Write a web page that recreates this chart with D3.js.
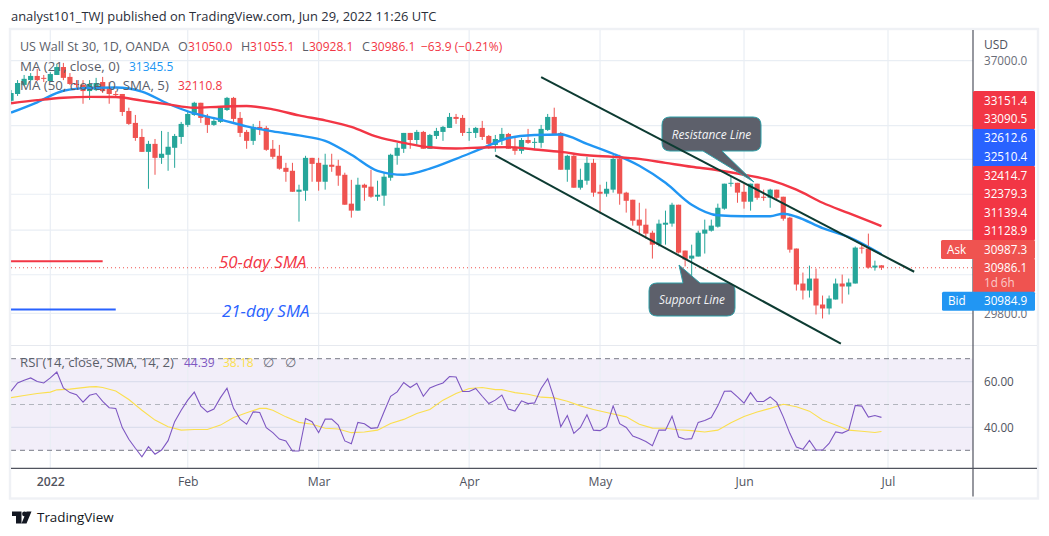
<!DOCTYPE html>
<html><head><meta charset="utf-8">
<script src="https://d3js.org/d3.v7.min.js"></script>
<style>html,body{margin:0;padding:0;background:#fff}svg{display:block}text{font-family:"Open Sans",sans-serif}</style>
</head><body><div id="c"></div>
<script>
// bar index 0 = 3 Jan 2022
const firstBar = -6;
const opens = [35750,35960,36240,36390,36520,36460,36360,36550,36800,36490,36270,36240,36050,36080,36330,36150,35960,35960,35440,35080,34660,34220,34455,34045,34135,34340,34660,35020,35320,35690,35290,35020,35110,35470,35840,35230,34810,34545,34960,34930,34310,34105,33755,33670,33070,33100,34045,33900,33355,33845,33815,33555,32735,32540,33270,33215,32930,32960,33470,34105,34310,34780,34570,34810,34310,34690,34810,34930,35260,35230,34780,34780,34930,34690,34425,34570,34750,34340,34250,34570,34485,34485,34870,35260,34780,33700,34105,33185,33385,33900,33070,33015,33130,34015,33045,32845,32290,32150,31930,31605,32150,32180,32705,31445,31230,31285,31905,31985,32095,32595,33300,33325,33070,32790,33300,32930,32900,33130,32930,32345,31500,30570,30387,30700,30025,29923,30154,30570,30492,30570,31525,31500,30990,31050];
const highs = [36080,36390,36550,36610,36740,36550,36640,36900,36930,36610,36390,36390,36390,36460,36490,36330,36050,35960,35540,35320,34900,34545,34600,34840,34810,34750,35110,35410,35720,35690,35350,35260,35570,35870,35870,35410,34870,35050,35140,34990,34570,34425,33900,33900,33270,34105,34045,34045,34165,34165,33990,33615,33410,33470,33300,33700,33385,33615,34165,34485,34780,34780,34870,34840,34750,34930,34990,35380,35350,35320,34930,34960,35140,34720,34720,34930,34780,34690,34630,34900,34630,35020,35350,35540,34810,34135,34135,33730,34075,34015,33270,33355,34135,34135,33070,32845,32760,32595,31985,32290,32540,32760,32705,31445,31605,31985,32290,32290,32735,33300,33500,33325,33300,33300,33300,33130,33155,33130,32930,32370,31500,30858,31043,30964,30257,30257,30700,30805,30700,31555,31605,31905,31175,31055.1];
const lows = [35720,35900,36210,36360,36360,36330,36330,36550,36390,36240,36150,35660,35780,36050,35990,35660,35870,35290,35020,34545,34220,33155,33555,33870,33670,33755,34455,34960,35290,35080,34780,34990,35080,35440,35110,34660,34310,34425,34720,34250,34015,33700,33355,33070,32235,32815,33355,33100,33130,33640,33240,32705,32345,32540,32815,32900,32815,32675,33385,33845,34190,34310,34425,34310,34310,34600,34545,34930,35050,34690,34545,34630,34570,34310,34220,34425,34310,34135,34165,34455,34310,34340,34840,34750,33700,33355,33185,33130,33270,32930,32455,32930,33045,32705,32485,32125,31905,31770,31230,31555,31605,32095,31365,31020,30648,31285,31365,31960,32070,32565,33215,32760,32595,32540,32845,32815,32620,32845,32260,31390,30387,30154,30205,29770,29668,29770,30154,30050,30283,30570,31365,30964,30910,30928.1];
const closes = [35990,36300,36430,36520,36390,36430,36580,36800,36460,36270,36240,36050,36270,36300,36050,35960,35930,35410,35050,34630,34220,34455,34045,34165,34370,34690,35050,35350,35690,35230,35020,35140,35540,35840,35200,34780,34545,34960,34900,34280,34075,33730,33640,33070,33130,34045,33870,33355,33845,33785,33530,32705,32540,33270,33185,32930,32985,33500,34135,34340,34780,34570,34810,34310,34720,34840,34960,35260,35200,34780,34810,34930,34660,34455,34600,34750,34310,34250,34570,34485,34515,34900,35260,34750,33700,34105,33185,33410,33900,33045,33015,33155,34015,33015,32815,32260,32125,31905,31605,32180,32205,32705,31390,31205,31310,31930,32015,32125,32620,33300,33325,33045,32790,33300,32900,32900,33130,32900,32315,31470,30544,30387,30700,30000,29923,30180,30570,30492,30596,31525,31500,30990,31043,30986.1];

const maBars = [-6,-2,2,6,10,14,18,22,26,30,34,38,42,46,50,54,58,62,66,70,74,78,82,86,90,94,98,102,106,110,114,118,122,127];
const ma21Bars = [-6,-2,2,6,10,14,18,22,26,30,34,38,42,46,50,54,58,62,66,70,74,78,82,86,90,94,98,102,106,110,112,114,118,122,127];
const ma21 = [35390,35705,36060,36150,36160,36035,35660,35365,35180,34975,34825,34705,34545,34135,33670,33555,33730,34015,34325,34630,34720,34735,34455,34165,33815,33325,32705,32410,32385,32385,32455,32370,32055,31810,31345.5];
const ma50 = [35675,35770,35845,35870,35865,35755,35640,35540,35570,35590,35490,35305,35155,34960,34660,34485,34355,34320,34350,34360,34290,34220,34120,34075,34015,33900,33785,33685,33555,33400,33130,32760,32470,32110.8];

const rsi = [55.8,59.4,60.6,61.6,60,59.4,61.6,64.2,57.2,55.2,54.3,51,54,54.8,51.4,48.6,48.3,39.9,34.8,30.9,27.2,31.6,28.3,30.1,34.2,42.5,47.5,51.9,55.4,49.3,46.7,48,53,57.1,48.3,43.6,41.4,46.8,46.5,39.9,37.7,34.9,34.1,29.7,29.7,43.9,42.5,37.7,43.6,43.6,41,34.1,32.9,42.2,41.6,39.6,39.9,46.8,53.6,55.5,59.6,57.4,59.3,53.6,57.2,58.4,59.4,62.2,62,55.7,55.7,57,53.6,50.4,51.9,54.1,48,47.1,51.6,50.4,50.7,57,61.3,52.6,40.3,45.2,37.4,40,45.5,38.8,38.6,40.3,49.4,41.6,40,36.2,35.2,33.8,32,38.8,38.8,44.9,35.8,34.8,35.1,42.2,43,44.3,49.4,55.8,55.9,53.3,50.6,55.2,51.3,51.3,53.3,50.9,44.6,37.4,31.4,30.4,34.3,30.1,30.1,33,38,37.5,38.8,49.6,49.3,44.5,45.2,44.39];
const rsiSmaBars = [-6,-4,-2,0,1,3,6,7,8,10,12,14,16,18,20,22,24,26,28,30,32,33,34,36,38,40,42,44,46,48,50,52,54,56,58,60,62,64,66,68,69,71,73,75,77,79,81,83,85,88,90,92,94,96,98,100,102,104,106,108,110,112,114,116,118,120,122,124,126,127];
const rsiSma = [53,53.9,54.8,55.4,56.4,56.7,57.7,57.8,57.4,55.9,52.2,47.5,43.2,40.3,38.8,39.1,39.1,41,44.3,46.4,48.3,48.3,47.5,44.6,42.2,41.4,39.6,39.3,37.7,38,38.8,41.7,43.5,46.1,47.8,51.9,54.8,57,57.4,56.5,56.5,55.2,54.5,53.2,52.9,51.4,49.4,47.8,46.5,44.6,41.4,39.7,39.6,39,38.6,38,38.8,42,44.8,46.7,48.3,50.1,49,47.1,43.2,41,38.8,38.3,37.8,38.18];

const monthBars = [0,21,41,64,84,106,128];
const monthLabels = ["2022","Feb","Mar","Apr","May","Jun","Jul"];
const priceTicks = [37000,35000,34000,33000,32000,30800,29800];
const priceLabels = [37000,29800];
const rsiTicks = [60,40];
const lastPrice = 30986.1;
const resistance = [[75,36480],[132,30880]];
const support = [[68,34115],[120.8,29033]];
const drawn50 = [[-6,31157],[8,31157]];
const drawn21 = [[-6,29897],[10,29897]];

const W=1049,H=536;
const svg=d3.select("#c").append("svg").attr("width",W).attr("height",H);
const L=11,R=973,FR=1037,T=30,PB=345.5,AX=468.3,FB=497.5;
const x=d3.scaleLinear().domain([0,128]).range([50.3,888]);
const y=d3.scaleLog().domain([37000,29800]).range([60.7,313.3]);
const ry=d3.scaleLinear().domain([30,70]).range([450.3,358.7]);
const GRID="#e9eef4";

svg.append("text").attr("x",11).attr("y",21).attr("font-size",12.9).attr("fill","#2a2e39")
 .text("analyst101_TWJ published on TradingView.com, Jun 29, 2022 11:26 UTC");

svg.append("defs").append("clipPath").attr("id","plot").append("rect").attr("x",L).attr("y",T).attr("width",R-L).attr("height",AX-T);
svg.append("rect").attr("x",L).attr("width",R-L).attr("y",ry(70)).attr("height",ry(30)-ry(70)).attr("fill","#7e57c2").attr("fill-opacity",.1);

// time axis + vertical grid
const xAxis=d3.axisBottom(x).tickValues(monthBars).tickFormat((d,i)=>monthLabels[i]).tickSize(0).tickPadding(9);
const gx=svg.append("g").attr("transform",`translate(0,${AX})`).call(xAxis);
gx.select(".domain").remove();
gx.selectAll("text").attr("font-size",12.2).attr("fill","#50535e").attr("font-weight",(d,i)=>i==0?600:400);
svg.selectAll(".vg").data(monthBars).enter().append("line").attr("x1",d=>x(d)).attr("x2",d=>x(d)).attr("y1",T).attr("y2",AX).attr("stroke",GRID).attr("stroke-width",1.2);

// price axis + horizontal grid
svg.selectAll(".hg").data(priceTicks).enter().append("line").attr("x1",L).attr("x2",R).attr("y1",d=>y(d)).attr("y2",d=>y(d)).attr("stroke",GRID).attr("stroke-width",1.2);
const yAxis=d3.axisRight(y).tickValues(priceLabels).tickFormat(d3.format(".1f")).tickSize(0).tickPadding(11);
const gy=svg.append("g").attr("transform",`translate(${R},0)`).call(yAxis);
gy.select(".domain").remove();
gy.selectAll("text").attr("font-size",11.7).attr("fill","#6a6d78");

// rsi grid & axis
svg.selectAll(".rg").data(rsiTicks).enter().append("line").attr("x1",L).attr("x2",R).attr("y1",d=>ry(d)).attr("y2",d=>ry(d)).attr("stroke","#dcdeed").attr("stroke-width",1.2);
const ga=svg.append("g").attr("transform",`translate(${R},0)`).call(d3.axisRight(ry).tickValues(rsiTicks).tickFormat(d3.format(".2f")).tickSize(0).tickPadding(11));
ga.select(".domain").remove();
ga.selectAll("text").attr("font-size",11.7).attr("fill","#50535e");
svg.selectAll(".rb").data([70,50,30]).enter().append("line").attr("x1",L).attr("x2",R).attr("y1",d=>ry(d)).attr("y2",d=>ry(d))
 .attr("stroke",d=>d==50?"#b2b5be":"#787b86").attr("stroke-dasharray","5 4").attr("stroke-width",1);

// frame
svg.append("rect").attr("x",L-1).attr("y",T-1).attr("width",FR-L+2).attr("height",FB-T+2).attr("fill","none").attr("stroke","#eff1f5").attr("stroke-width",2.4);
svg.append("line").attr("x1",L).attr("x2",FR).attr("y1",PB).attr("y2",PB).attr("stroke","#e6e9ef").attr("stroke-width",1.2);
svg.append("line").attr("x1",L).attr("x2",FR).attr("y1",AX).attr("y2",AX).attr("stroke","#50535e").attr("stroke-width",1.2);
svg.append("line").attr("x1",R).attr("x2",R).attr("y1",T).attr("y2",FB-1).attr("stroke","#50535e").attr("stroke-width",1.2);

const plot=svg.append("g").attr("clip-path","url(#plot)");
const lineT=d3.line().x(d=>x(d[0])).y(d=>y(d[1]));
plot.append("path").attr("d",lineT(drawn50)).attr("fill","none").attr("stroke","#f23645").attr("stroke-width",2);
plot.append("path").attr("d",lineT(drawn21)).attr("fill","none").attr("stroke","#2962ff").attr("stroke-width",2);
plot.append("line").attr("x1",L).attr("x2",R).attr("y1",y(lastPrice)).attr("y2",y(lastPrice)).attr("stroke","#ef5350").attr("stroke-dasharray","1 3").attr("stroke-width",1.2);

// candles
const bars=opens.map((o,i)=>({i:i+firstBar,o,h:highs[i],l:lows[i],c:closes[i]}));
const GREEN="#26a69a",RED="#ef5350";
const cg=plot.selectAll(".candle").data(bars).enter().append("g");
cg.append("line").attr("x1",d=>x(d.i)).attr("x2",d=>x(d.i)).attr("y1",d=>y(d.h)).attr("y2",d=>y(d.l)).attr("stroke",d=>d.c>=d.o?GREEN:RED).attr("stroke-width",1);
cg.append("rect").attr("x",d=>x(d.i)-2.6).attr("width",5.2).attr("y",d=>y(Math.max(d.o,d.c))).attr("height",d=>Math.max(1,y(Math.min(d.o,d.c))-y(Math.max(d.o,d.c)))).attr("fill",d=>d.c>=d.o?GREEN:RED);

// moving averages
const lineP=d3.line().x(d=>x(d[0])).y(d=>y(d[1])).curve(d3.curveMonotoneX);
plot.append("path").attr("d",lineP(ma21Bars.map((b,i)=>[b,ma21[i]]))).attr("fill","none").attr("stroke","#2196f3").attr("stroke-width",2.4);
plot.append("path").attr("d",lineP(maBars.map((b,i)=>[b,ma50[i]]))).attr("fill","none").attr("stroke","#f23645").attr("stroke-width",2.4);

// callouts
function callout(x0,x1,y0,y1,tip,b0,b1,up,label,fs){
  const r=8,g=svg.append("g");
  let d=`M${x0+r},${y0}`;
  if(up) d+=`L${b0},${y0}L${tip[0]},${tip[1]}L${b1},${y0}`;
  d+=`L${x1-r},${y0}Q${x1},${y0} ${x1},${y0+r}L${x1},${y1-r}Q${x1},${y1} ${x1-r},${y1}`;
  if(!up) d+=`L${b1},${y1}L${tip[0]},${tip[1]}L${b0},${y1}`;
  d+=`L${x0+r},${y1}Q${x0},${y1} ${x0},${y1-r}L${x0},${y0+r}Q${x0},${y0} ${x0+r},${y0}Z`;
  g.append("path").attr("d",d).attr("fill","#5d606b").attr("stroke","#2f9fa8").attr("stroke-width",1);
  g.append("text").attr("x",(x0+x1)/2).attr("y",(y0+y1)/2+4.5).attr("text-anchor","middle").attr("font-size",fs).attr("font-style","italic").attr("fill","#f2f3f5").text(label);
}
callout(662,761,117,151,[754,182],703,722,false,"Resistance Line",11.9);
callout(649,735,283,316,[679,265],683,700,true,"Support Line",11.8);

// trend lines
[resistance,support].forEach(s=>svg.append("path").attr("d",lineT(s)).attr("fill","none").attr("stroke","#0d3b32").attr("stroke-width",2));

// RSI
const lineR=d3.line().x(d=>x(d[0])).y(d=>ry(d[1]));
plot.append("path").attr("d",lineR(rsiSmaBars.map((b,i)=>[b,rsiSma[i]]))).attr("fill","none").attr("stroke","#fbdf4f").attr("stroke-width",1.1);
plot.append("path").attr("d",lineR(rsi.map((v,i)=>[i+firstBar,v]))).attr("fill","none").attr("stroke","#7e57c2").attr("stroke-width",1.1);

// annotations
svg.append("text").attr("x",219).attr("y",267.5).attr("font-size",16.9).attr("font-style","italic").attr("fill","#f23645").text("50-day SMA");
svg.append("text").attr("x",222).attr("y",317).attr("font-size",16.9).attr("font-style","italic").attr("fill","#2962ff").text("21-day SMA");

// legends
function tx(xp,yp,s,c,fs){svg.append("text").attr("x",xp).attr("y",yp).attr("font-size",fs||12).attr("fill",c).text(s);}
const GT="#5a5e69",RT="#f23645";
tx(20,51,"US Wall St 30, 1D, OANDA",GT,12.5);
tx(178,51,"O",GT,12.5);tx(188,51,"31050.0",RT);
tx(241,51,"H",GT,12.5);tx(250,51,"31055.1",RT);
tx(302,51,"L",GT,12.5);tx(309,51,"30928.1",RT);
tx(362,51,"C",GT,12.5);tx(371,51,"30986.1",RT);
tx(421,51,"\u221263.9 (\u22120.21%)",RT);
tx(20,71,"MA (21, close, 0)",GT,13.3);tx(129,71,"31345.5","#2196f3");
tx(20,90,"MA (50, close, 0, SMA, 5)",GT,13.3);tx(178,90,"32110.8",RT);
tx(20,367,"RSI (14, close, SMA, 14, 2)",GT,13.2);
tx(184,367,"44.39","#7e57c2",12);tx(223,367,"38.18","#fbdf4f",12);
tx(263,367,"\u2205","#6a6d78",12.5);tx(285,367,"\u2205","#6a6d78",12.5);
tx(984,49,"USD","#50535e",12);

// price badges
const badgeRed=["33151.4","33090.5"],badgeBlue=["32612.6","32510.4"],badgeRed2=["32414.7","32379.3","31139.4","31128.9"];
function block(x0,x1,y0,y1,f){svg.append("rect").attr("x",x0).attr("y",y0).attr("width",x1-x0).attr("height",y1-y0).attr("fill",f).attr("rx",1.5);}
function bt(xp,yp,s,op){svg.append("text").attr("x",xp).attr("y",yp).attr("dy","0.36em").attr("font-size",11.7).attr("fill","#fff").attr("fill-opacity",op||1).text(s);}
block(973,1035,91,129.5,"#f23645");block(973,1035,129,166.5,"#2962ff");block(973,1035,166,240.5,"#f23645");
block(941,1035,240,259,"#ef5350");block(973,1035,258.5,292,"#ef5350");block(942,1035,291.7,310.7,"#2196f3");
badgeRed.forEach((s,i)=>bt(984,[100.7,119][i],s));
badgeBlue.forEach((s,i)=>bt(984,[138,157][i],s));
badgeRed2.forEach((s,i)=>bt(984,[175.7,194,212.7,230.7][i],s));
bt(984,249.5,"30987.3");bt(947,249.5,"Ask");bt(984,267.5,"30986.1");bt(984,283,"1d 6h",.7);
bt(984,301,"30984.9");bt(948,301,"Bid");

// logo
svg.append("path").attr("d","M12 511.5H21.5V523.5H16V516H12Z M31.5 511.5L26.5 523.5H21.5L26.5 511.5Z").attr("fill","#131722");
svg.append("circle").attr("cx",24.5).attr("cy",514).attr("r",2.4).attr("fill","#131722");
tx(37,522,"TradingView","#131722",13.4);
</script></body></html>
